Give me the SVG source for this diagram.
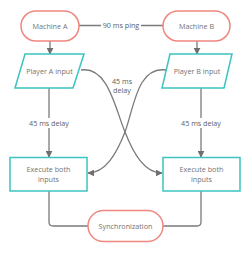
<svg xmlns="http://www.w3.org/2000/svg" width="250" height="253" viewBox="0 0 250 253">
<defs>
<style>
.term{fill:#fff;stroke:#F0877E;stroke-width:1.5}
.io{fill:#fff;stroke:#3DC3C0;stroke-width:1.5}
.ln{fill:none;stroke:#7a7a7a;stroke-width:1.3}
.t{font-family:"Open Sans","DejaVu Sans",sans-serif;font-size:7.2px;fill:#747474;text-anchor:middle}
.lbl{font-family:"Open Sans","DejaVu Sans",sans-serif;font-size:7.2px;fill:#606060;text-anchor:middle}
</style>
<marker id="ah" viewBox="0 0 10 10" refX="9" refY="5" markerWidth="7" markerHeight="7" markerUnits="userSpaceOnUse" orient="auto">
<path d="M0,0 L10,5 L0,10 z" fill="#6f6f6f"/>
</marker>
</defs>
<g id="connectors">
<line class="ln" x1="79" y1="25.5" x2="163" y2="25.5"/>
<rect x="101" y="20" width="40" height="11" fill="#fff"/>
<text class="lbl" x="121" y="28">90 ms ping</text>
<line class="ln" x1="50" y1="41" x2="50" y2="54" marker-end="url(#ah)"/>
<line class="ln" x1="197" y1="41" x2="197" y2="54" marker-end="url(#ah)"/>
<line class="ln" x1="49" y1="88" x2="49" y2="157" marker-end="url(#ah)"/>
<rect x="28" y="118" width="42" height="10" fill="#fff"/>
<text class="lbl" x="49" y="126">45 ms delay</text>
<line class="ln" x1="201" y1="88" x2="201" y2="157" marker-end="url(#ah)"/>
<rect x="180" y="118" width="42" height="10" fill="#fff"/>
<text class="lbl" x="201" y="126">45 ms delay</text>
<path class="ln" d="M81,70 C108,66 115,108 125,132 C134,155 145,173 162,173" marker-end="url(#ah)"/>
<path class="ln" d="M166,70 C137,66 134,108 125,132 C116,155 105,173 88,173" marker-end="url(#ah)"/>
<text class="lbl" x="122" y="84">45 ms</text>
<text class="lbl" x="122" y="93">delay</text>
<path class="ln" d="M49,191 V222 Q49,226 53,226 H88"/>
<path class="ln" d="M201,191 V222 Q201,226 197,226 H163"/>
</g>
<g id="machineA">
<rect class="term" x="21" y="11" width="58" height="30" rx="15"/>
<text class="t" x="50" y="28.5">Machine A</text>
</g>
<g id="machineB">
<rect class="term" x="163" y="11" width="67" height="30" rx="15"/>
<text class="t" x="196.5" y="28.5">Machine B</text>
</g>
<g id="playerA">
<polygon class="io" points="25,54 84,54 73,88 15,88"/>
<text class="t" x="49.5" y="73.5">Player A input</text>
</g>
<g id="playerB">
<polygon class="io" points="170,54 232,54 224,88 162,88"/>
<text class="t" x="197" y="73.5">Player B input</text>
</g>
<g id="execA">
<rect class="io" x="10" y="157.5" width="77" height="33.5"/>
<text class="t" x="48.5" y="172">Execute both</text>
<text class="t" x="48.5" y="181.5">inputs</text>
</g>
<g id="execB">
<rect class="io" x="163" y="157.5" width="77" height="33.5"/>
<text class="t" x="201.5" y="172">Execute both</text>
<text class="t" x="201.5" y="181.5">inputs</text>
</g>
<g id="sync">
<rect class="term" x="88" y="210.5" width="75" height="31" rx="15.5"/>
<text class="t" x="125.5" y="228.5">Synchronization</text>
</g>
</svg>
